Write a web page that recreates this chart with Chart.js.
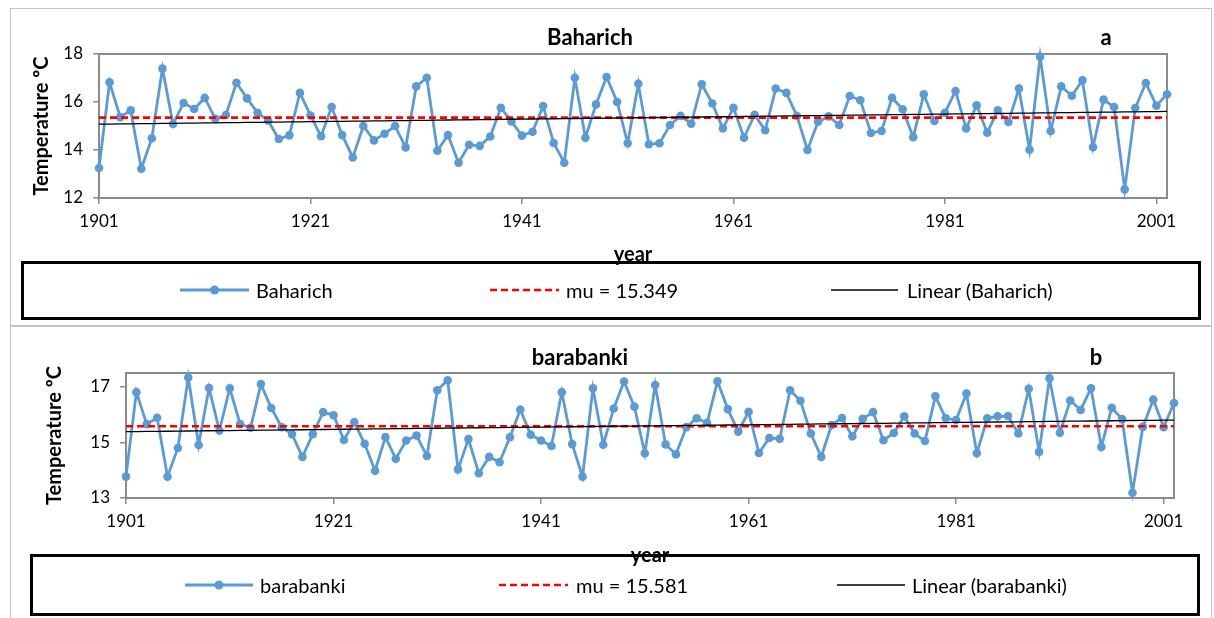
<!DOCTYPE html>
<html>
<head>
<meta charset="utf-8">
<script src="https://cdn.jsdelivr.net/npm/chart.js@4.4.1/dist/chart.umd.min.js"></script>
<style>
  body { margin: 0; width: 1214px; height: 618px; background: #fff; overflow: hidden; position: relative; font-family: Lato, "Liberation Sans", sans-serif; color: #000; }
  .panel { position: absolute; left: 10px; width: 1202px; border: 1px solid #c4c4c4; box-sizing: border-box; }
  canvas { position: absolute; left: 10px; }
  .ttl { position: absolute; font-weight: bold; font-size: 22px; transform: translate(-50%, -50%); white-space: nowrap; }
  .legend { position: absolute; border: 3px solid #000; box-sizing: border-box; }
  .lg { position: absolute; font-size: 20px; transform: translateY(-50%); white-space: nowrap; }
  svg { position: absolute; overflow: visible; }
</style>
</head>
<body>
<div class="panel" style="top:8px;height:318px"></div>
<div class="panel" style="top:326px;height:300px"></div>

<canvas id="chartA" width="1202" height="317" style="top:8px"></canvas>
<canvas id="chartB" width="1202" height="291" style="top:327px"></canvas>

<div class="ttl" style="left:590px;top:36px">Baharich</div>
<div class="ttl" style="left:1106px;top:36px">a</div>
<div class="ttl" style="left:580px;top:356px">barabanki</div>
<div class="ttl" style="left:1096px;top:356px">b</div>

<div class="legend" style="left:21px;top:261px;width:1180px;height:59px"></div>
<svg style="left:0;top:0" width="1" height="1">
  <line x1="180" y1="290" x2="249" y2="290" stroke="#5b9bd5" stroke-width="3"/>
  <circle cx="214.5" cy="290" r="4.5" fill="#5b9bd5"/>
  <line x1="490" y1="290" x2="559" y2="290" stroke="#ff0000" stroke-width="2.6" stroke-dasharray="7 4"/>
  <line x1="831" y1="290" x2="898" y2="290" stroke="#000" stroke-width="1.3"/>
  <line x1="185" y1="585" x2="253" y2="585" stroke="#5b9bd5" stroke-width="3"/>
  <circle cx="219" cy="585" r="4.5" fill="#5b9bd5"/>
  <line x1="499" y1="585" x2="568" y2="585" stroke="#ff0000" stroke-width="2.6" stroke-dasharray="7 4"/>
  <line x1="837" y1="585" x2="905" y2="585" stroke="#000" stroke-width="1.3"/>
</svg>
<div class="lg" style="left:256px;top:290px">Baharich</div>
<div class="lg" style="left:566px;top:290px">mu = 15.349</div>
<div class="lg" style="left:907px;top:290px">Linear (Baharich)</div>

<div class="legend" style="left:30px;top:554px;width:1170px;height:62px"></div>
<div class="lg" style="left:260px;top:585px">barabanki</div>
<div class="lg" style="left:576px;top:585px">mu = 15.581</div>
<div class="lg" style="left:912px;top:585px">Linear (barabanki)</div>

<script>
const firstYear = 1901;
const xTickYears = [1901, 1921, 1941, 1961, 1981, 2001];

const baharich = [
  13.25, 16.82, 15.37, 15.65, 13.22, 14.49, 17.39, 15.08, 15.96, 15.71,
  16.17, 15.30, 15.46, 16.80, 16.15, 15.55, 15.22, 14.46, 14.61, 16.38,
  15.44, 14.57, 15.79, 14.62, 13.69, 15.00, 14.40, 14.68, 15.00, 14.11,
  16.65, 17.01, 13.97, 14.62, 13.47, 14.22, 14.17, 14.56, 15.76, 15.19,
  14.60, 14.76, 15.83, 14.29, 13.47, 17.01, 14.51, 15.90, 17.04, 16.00,
  14.28, 16.76, 14.24, 14.28, 15.04, 15.42, 15.10, 16.74, 15.94, 14.90,
  15.76, 14.51, 15.47, 14.82, 16.56, 16.38, 15.42, 14.00, 15.18, 15.40,
  15.04, 16.25, 16.07, 14.71, 14.79, 16.18, 15.70, 14.53, 16.32, 15.21,
  15.55, 16.46, 14.90, 15.86, 14.72, 15.65, 15.17, 16.56, 14.01, 17.89,
  14.79, 16.65, 16.26, 16.90, 14.12, 16.10, 15.79, 12.36, 15.75, 16.79,
  15.85, 16.32
];
const baharichMu = 15.349;
const baharichTicks = [12, 14, 16, 18];

const barabanki = [
  13.77, 16.81, 15.66, 15.89, 13.77, 14.80, 17.34, 14.91, 16.96, 15.43,
  16.95, 15.66, 15.53, 17.10, 16.24, 15.55, 15.30, 14.48, 15.30, 16.09,
  15.98, 15.09, 15.73, 14.95, 13.98, 15.19, 14.41, 15.07, 15.25, 14.51,
  16.88, 17.24, 14.03, 15.12, 13.89, 14.48, 14.29, 15.19, 16.18, 15.28,
  15.07, 14.87, 16.81, 14.94, 13.77, 16.95, 14.92, 16.22, 17.19, 16.29,
  14.61, 17.07, 14.93, 14.57, 15.55, 15.87, 15.71, 17.20, 16.20, 15.39,
  16.10, 14.62, 15.16, 15.13, 16.88, 16.50, 15.32, 14.48, 15.63, 15.88,
  15.22, 15.85, 16.09, 15.08, 15.34, 15.94, 15.32, 15.05, 16.66, 15.87,
  15.81, 16.76, 14.61, 15.87, 15.94, 15.95, 15.32, 16.93, 14.66, 17.31,
  15.35, 16.51, 16.17, 16.95, 14.84, 16.25, 15.84, 13.19, 15.56, 16.54,
  15.55, 16.42
];
const barabankiMu = 15.581;
const barabankiTicks = [13, 15, 17];

const years = baharich.map((_, i) => firstYear + i);

// least squares line, like Excel's "Linear" trendline
function linearFit(xs, ys) {
  const n = xs.length;
  const mx = xs.reduce((a, b) => a + b, 0) / n;
  const my = ys.reduce((a, b) => a + b, 0) / n;
  let sxy = 0, sxx = 0;
  xs.forEach((x, i) => { sxy += (x - mx) * (ys[i] - my); sxx += (x - mx) * (x - mx); });
  const slope = sxy / sxx;
  return xs.map((x) => my + slope * (x - mx));
}

const frame = {
  id: "frame",
  beforeDatasetsDraw(chart) {
    const a = chart.chartArea;
    const c = chart.ctx;
    c.save();
    c.strokeStyle = "#8a8a8a";
    c.lineWidth = 2;
    c.strokeRect(a.left, a.top, a.right - a.left, a.bottom - a.top);
    c.restore();
  },
};

const tickFont = { family: "Lato", size: 17 };
const titleFont = { family: "Lato", size: 20, weight: "bold" };

function makeChart(id, series, mu, yTicks, yMax, o) {
  const trend = linearFit(years, series);
  const last = years[years.length - 1];
  return new Chart(document.getElementById(id), {
    type: "line",
    data: {
      datasets: [
        {
          data: years.map((y, i) => ({ x: y, y: trend[i] })),
          borderColor: "#000",
          borderWidth: 1.3,
          pointRadius: 0,
          order: 1,
        },
        {
          data: [{ x: years[0], y: mu }, { x: last, y: mu }],
          borderColor: "#ff0000",
          borderDash: [7, 4],
          borderWidth: 2.6,
          pointRadius: 0,
          order: 2,
        },
        {
          data: years.map((y, i) => ({ x: y, y: series[i] })),
          borderColor: "#5b9bd5",
          backgroundColor: "#5b9bd5",
          borderWidth: 2.8,
          pointRadius: 4.3,
          pointBorderWidth: 0,
          tension: 0,
          clip: false,
          order: 3,
        },
      ],
    },
    options: {
      responsive: false,
      animation: false,
      events: [],
      layout: { padding: o.pad },
      plugins: { legend: { display: false }, tooltip: { enabled: false } },
      scales: {
        x: {
          type: "linear",
          min: years[0],
          max: last,
          afterFit: (s) => { s.height = 70; },
          afterBuildTicks: (s) => { s.ticks = xTickYears.map((v) => ({ value: v })); },
          ticks: { callback: (v) => String(v), font: tickFont, color: "#000", padding: 7, maxRotation: 0, autoSkip: false },
          grid: { drawOnChartArea: false, tickLength: 6, color: "#8a8a8a", lineWidth: 1.5 },
          border: { color: "#8a8a8a", width: 2 },
          title: { display: true, text: "year", font: titleFont, color: "#000", padding: { top: 0, bottom: o.xTitlePad } },
        },
        y: {
          min: yTicks[0],
          max: yMax,
          afterFit: (s) => { s.width = o.yWidth; },
          afterBuildTicks: (s) => { s.ticks = yTicks.map((v) => ({ value: v })); },
          ticks: { font: tickFont, color: "#000", padding: 10 },
          grid: { drawOnChartArea: false, tickLength: 6, color: "#8a8a8a", lineWidth: 1.5 },
          border: { color: "#8a8a8a", width: 2 },
          title: { display: true, text: "Temperature ºC", font: titleFont, color: "#000", padding: { top: o.yTitlePad, bottom: 0 } },
        },
      },
    },
    plugins: [frame],
  });
}

makeChart("chartA", baharich, baharichMu, baharichTicks, 18, {
  pad: { left: 0, right: 45, top: 46, bottom: 57 },
  yWidth: 89,
  yTitlePad: 20,
  xTitlePad: 1,
});

makeChart("chartB", barabanki, barabankiMu, barabankiTicks, 17.5, {
  pad: { left: 0, right: 38, top: 46, bottom: 50 },
  yWidth: 116,
  yTitlePad: 33,
  xTitlePad: 0,
});
</script>
</body>
</html>
